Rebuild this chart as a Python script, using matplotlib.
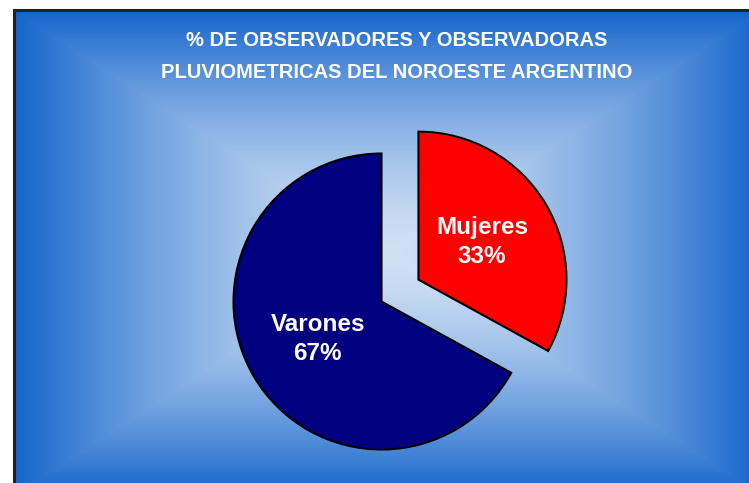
import numpy as np
import matplotlib
matplotlib.use("Agg")
import matplotlib.pyplot as plt
from matplotlib.lines import Line2D

# ---- data ----
categories = ["Varones", "Mujeres"]
values = [67, 33]
title_lines = ["% DE OBSERVADORES Y OBSERVADORAS",
               "PLUVIOMETRICAS DEL NOROESTE ARGENTINO"]

W, H = 749, 483
fig = plt.figure(figsize=(W / 100, H / 100), dpi=100)
fig.patch.set_facecolor("white")

# ---- background frame with box gradient ----
fx0, fy0, fx1, fy1 = 14, 10, 762, 496  # pixel coords (top-left origin)
bg = fig.add_axes([0, 0, 1, 1])
bg.axis("off")
xs = np.arange(fx0, fx1)
ys = np.arange(fy0, fy1)
X, Y = np.meshgrid(xs + 0.5, ys + 0.5)
cx, cy = (fx0 + fx1) / 2, (fy0 + fy1) / 2
hw, hh = (fx1 - fx0) / 2, (fy1 - fy0) / 2
d = np.maximum(np.abs(X - cx) / hw, np.abs(Y - cy) / hh)
t = np.clip(d, 0, 1) ** 1.5
light = np.array([208, 225, 244]) / 255
blue = np.array([20, 100, 204]) / 255
img = light[None, None, :] * (1 - t[..., None]) + blue[None, None, :] * t[..., None]
bg.imshow(img, extent=(fx0, fx1, fy1, fy0), interpolation="bilinear", zorder=0)
bg.add_line(Line2D([fx0, fx0], [H + 5, fy0], color="#222222", lw=2.2, zorder=2))
bg.add_line(Line2D([fx0, W + 5], [fy0, fy0], color="#222222", lw=2.2, zorder=2))
bg.set_xlim(0, W)
bg.set_ylim(H, 0)

# ---- title ----
for i, line in enumerate(title_lines):
    bg.text(397, 40 + i * 32, line, ha="center", va="center", color="white",
            fontsize=14.5, fontweight="bold", family="Liberation Sans", zorder=3)

# ---- pie ----
R = 148.0  # pixel radius
L = 1.6
size = 2 * L * R
pcx, pcy = 381.5, 301.5
ax = fig.add_axes([(pcx - size / 2) / W, ((H - pcy) - size / 2) / H, size / W, size / H])
ax.patch.set_alpha(0)
labels = [f"{c}\n{v}%" for c, v in zip(categories, values)]
wedges, texts = ax.pie(values, labels=labels, colors=["#000080", "#FF0000"],
                       startangle=90, counterclock=True, explode=[0, 0.29],
                       labeldistance=0.5,
                       wedgeprops=dict(edgecolor="black", linewidth=1.5),
                       textprops=dict(color="white", fontsize=17.5, fontweight="bold",
                                      family="Liberation Sans", linespacing=1.3))
for tx in texts:
    tx.set_ha("center")
    tx.set_va("center")
ax.set_xlim(-L, L)
ax.set_ylim(-L, L)
ax.set_aspect("auto")
ax.axis("off")

fig.savefig("out.png", dpi=100, facecolor="white")
